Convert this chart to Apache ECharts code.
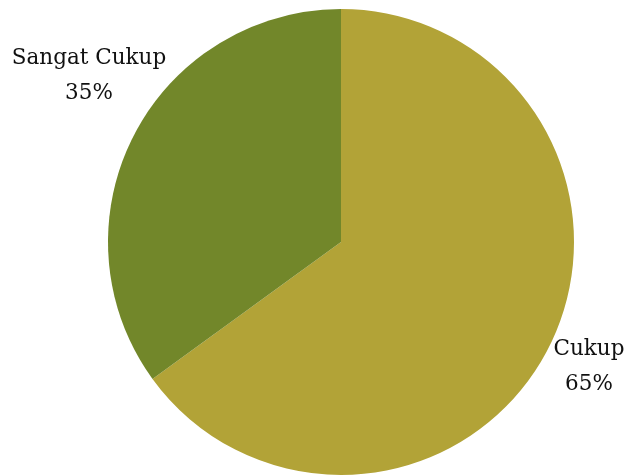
<!DOCTYPE html>
<html>
<head>
<meta charset="utf-8">
<script src="https://cdn.jsdelivr.net/npm/echarts@6/dist/echarts.min.js"></script>
<style>
html, body { margin: 0; padding: 0; background: #fff; }
#chart { width: 630px; height: 476px; }
</style>
</head>
<body>
<div id="chart"></div>
<script>
var categories = ['Cukup', 'Sangat Cukup'];
var values = [65, 35];
var colors = ['#b2a337', '#72872a'];

// where each label sits (center of the text block)
var labelPos = [[589, 367], [89, 76]];

var dom = document.getElementById('chart');
var myChart = echarts.init(dom);
var option = {
	animation: false,
	series: [{
		type: 'pie',
		center: [341, 242],
		radius: 233,
		startAngle: 90,
		clockwise: true,
		data: categories.map(function (c, i) {
			return { name: c, value: values[i], itemStyle: { color: colors[i] } };
		}),
		label: {
			show: true,
			position: 'outside',
			formatter: '{b}\n{d}%',
			fontFamily: 'DejaVu Serif',
			fontSize: 21.5,
			lineHeight: 35,
			color: '#111',
			align: 'center',
			overflow: 'none',
			width: 300
		},
		labelLine: { show: false },
		labelLayout: function (params) {
			var p = labelPos[params.dataIndex];
			return { x: p[0], y: p[1], align: 'center', verticalAlign: 'middle' };
		}
	}]
};
myChart.setOption(option);
</script>
</body>
</html>
